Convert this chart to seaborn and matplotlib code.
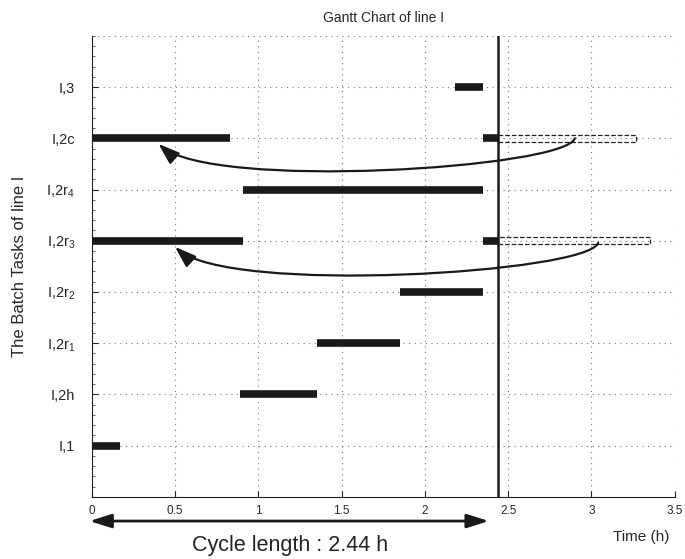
import numpy as np
import matplotlib
matplotlib.use("Agg")
import matplotlib.pyplot as plt
import seaborn as sns
from matplotlib.patches import FancyArrowPatch, Rectangle
from matplotlib.path import Path

# Task labels (bottom to top)
tasks = ['I,1', 'I,2h', r'I,2r$_1$', r'I,2r$_2$', r'I,2r$_3$', r'I,2r$_4$', 'I,2c', 'I,3']

# Gantt segments: task position (1-based), start, end (h)
seg_task = [1, 2, 3, 4, 5, 5, 6, 7, 7, 8]
seg_start = [0.0, 0.89, 1.35, 1.85, 0.0, 2.35, 0.91, 0.0, 2.35, 2.18]
seg_end = [0.17, 1.35, 1.85, 2.35, 0.91, 2.44, 2.35, 0.83, 2.44, 2.35]

cycle = 2.44

# tasks overflowing the cycle (dashed boxes)
over_task = [5, 7]
over_end = [3.35, 3.27]

sns.set_theme(style="ticks")
plt.rcParams['font.family'] = ['Liberation Sans', 'DejaVu Sans']
plt.rcParams['mathtext.fontset'] = 'custom'
plt.rcParams['mathtext.rm'] = 'Liberation Sans'
plt.rcParams['mathtext.it'] = 'Liberation Sans'

fig = plt.figure(figsize=(6.85, 5.59), dpi=100)
ax = fig.add_axes([0.134, 0.111, 0.851, 0.825])

ax.set_xlim(0, 3.5)
ax.set_ylim(0, 9)

# dotted grid
for x in np.arange(0.5, 3.51, 0.5):
    ax.axvline(x, color='#777777', ls=(0, (1, 4)), lw=0.8, zorder=0)
for y in range(1, 10):
    ax.axhline(y, color='#777777', ls=(0, (1, 4)), lw=0.8, zorder=0)

ax.hlines(seg_task, seg_start, seg_end, color='#1a1a1a', lw=5.5, zorder=3)

for t, e in zip(over_task, over_end):
    ax.add_patch(Rectangle((cycle, t - 0.07), e - cycle, 0.14, fill=False,
                           ls='--', lw=0.9, ec='#222222', zorder=2))

ax.axvline(cycle, color='#1a1a1a', lw=1.8, zorder=4)

# curved arrows moving the overflow back to the start of the cycle
curves = [
    [(2.90, 7.0), (2.85, 6.42), (0.72, 5.97), (0.40, 6.89)],
    [(3.04, 4.96), (2.99, 4.38), (0.82, 3.93), (0.50, 4.88)],
]
for pts in curves:
    p = Path(pts, [Path.MOVETO, Path.CURVE4, Path.CURVE4, Path.CURVE4])
    ax.add_patch(FancyArrowPatch(path=p, arrowstyle='-|>,head_length=13,head_width=4.5',
                                 color='#1a1a1a', lw=1.6, zorder=5))

ax.set_yticks(range(1, 9))
ax.set_yticklabels(tasks, fontsize=10.5)
ax.set_xticks(np.arange(0, 3.51, 0.5))
ax.set_xticklabels(['0', '0.5', '1', '1.5', '2', '2.5', '3', '3.5'], fontsize=8.5)
ax.tick_params(direction='in', length=4, width=0.8)
ax.tick_params(axis='y', pad=12)
ax.tick_params(axis='x', pad=6)
ax.yaxis.set_minor_locator(matplotlib.ticker.MultipleLocator(0.2))
ax.tick_params(axis='y', which='minor', direction='in', length=2, width=0.5)
sns.despine(ax=ax, top=True, right=True)
for s in ['left', 'bottom']:
    ax.spines[s].set_linewidth(0.8)
    ax.spines[s].set_color('#222222')

ax.set_title('Gantt Chart of line I', fontsize=10, pad=10)
ax.set_ylabel('The Batch Tasks of line I', fontsize=12, labelpad=14)
ax.text(3.13, -0.78, 'Time (h)', fontsize=11, ha='left', va='center', clip_on=False)

# cycle length arrow below the axis
ax.annotate('', xy=(-0.03, -0.47), xytext=(2.40, -0.47), xycoords='data',
            arrowprops=dict(arrowstyle='<|-|>,head_length=1.1,head_width=0.35',
                            color='#1a1a1a', lw=2), annotation_clip=False)
ax.text(1.19, -0.95, 'Cycle length : 2.44 h', fontsize=15.5, ha='center', va='center',
        color='#222222', clip_on=False)

fig.savefig('out.png', dpi=100)
